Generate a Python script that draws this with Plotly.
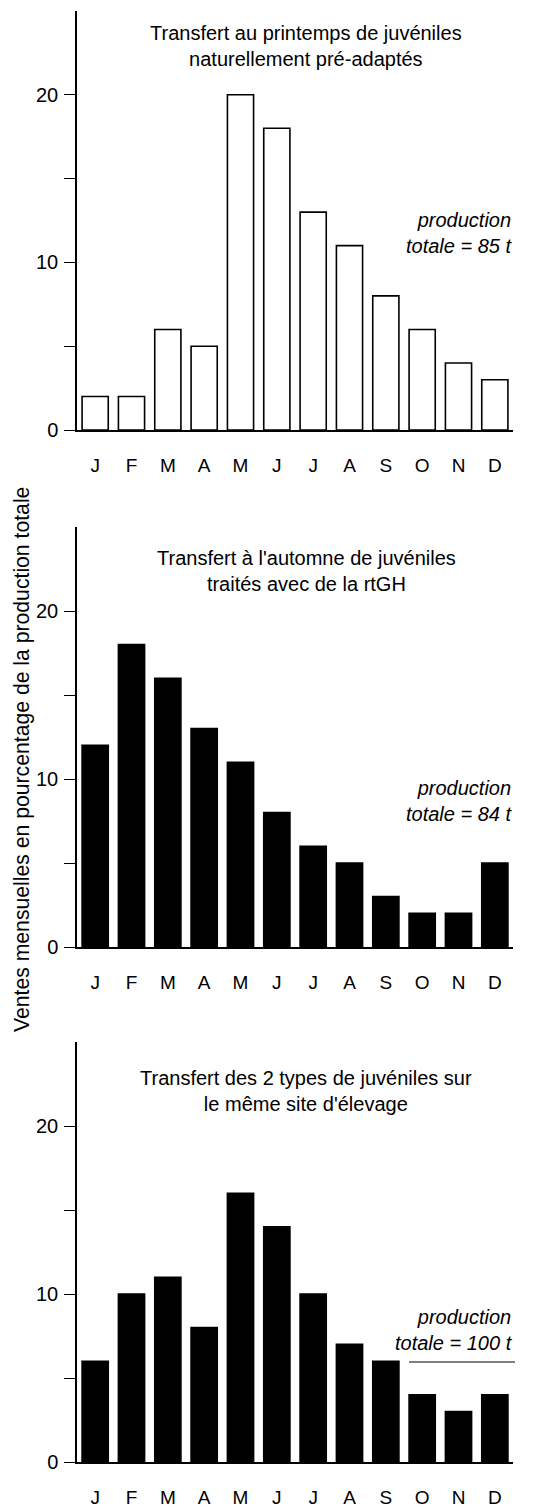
import plotly.graph_objects as go

months = ["J", "F", "M", "A", "M", "J", "J", "A", "S", "O", "N", "D"]
spring_natural = [2, 2, 6, 5, 20, 18, 13, 11, 8, 6, 4, 3]
autumn_rtgh = [12, 18, 16, 13, 11, 8, 6, 5, 3, 2, 2, 5]
both_types = [6, 10, 11, 8, 16, 14, 10, 7, 6, 4, 3, 4]

titles = [
    "Transfert au printemps de juvéniles<br>naturellement pré-adaptés",
    "Transfert à l'automne de juvéniles<br>traités avec de la rtGH",
    "Transfert des 2 types de juvéniles sur<br>le même site d'élevage",
]
totals = ["production<br>totale = 85 t", "production<br>totale = 84 t", "production<br>totale = 100 t"]
y_title = "Ventes mensuelles en pourcentage de la production totale"

# the page body has an 8px default margin: the figure is drawn 8px smaller
OFF = 8
W, H = 540 - OFF, 1508 - OFF
FONT = "Liberation Sans, Arial, Helvetica, sans-serif"

def px(p):
    return (p - OFF) / W

def py(p):
    return 1 - (p - OFF) / H

x_idx = list(range(len(months)))
series = [spring_natural, autumn_rtgh, both_types]
fills = ["white", "black", "black"]
zero_px = [430, 947, 1462]
top_px = [11, 527, 1042]
title_px = [46.5, 571.5, 1091]
total_px = [233, 801, 1329.5]

fig = go.Figure()
layout = dict(
    width=W, height=H,
    margin=dict(l=0, r=0, t=0, b=0, autoexpand=False),
    paper_bgcolor="white", plot_bgcolor="white",
    showlegend=False,
    font=dict(family=FONT, size=20, color="black"),
)
annotations = []
shapes = []
for i, vals in enumerate(series):
    n = "" if i == 0 else str(i + 1)
    fig.add_trace(go.Bar(
        x=x_idx, y=vals, xaxis="x" + n, yaxis="y" + n,
        marker=dict(color=fills[i], line=dict(color="black", width=1.6)),
        width=0.72,
    ))
    layout["xaxis" + n] = dict(
        domain=[px(77), px(513)], range=[-0.5, 11.5],
        tickvals=x_idx, ticktext=months, ticks="",
        showline=True, linecolor="black", linewidth=1.5,
        showgrid=False, zeroline=False, anchor="y" + n, automargin=False,
        tickfont=dict(size=19, family=FONT), ticklabelstandoff=17,
    )
    layout["yaxis" + n] = dict(
        domain=[py(zero_px[i]), py(top_px[i])], range=[0, 25],
        tickvals=[0, 5, 10, 15, 20], ticktext=["0", "", "10", "", "20"],
        ticks="outside", ticklen=11, tickwidth=1.2, tickcolor="black",
        showline=True, linecolor="black", linewidth=1.5,
        showgrid=False, zeroline=False, anchor="x" + n, automargin=False,
        tickfont=dict(size=20, family=FONT), ticklabelstandoff=2,
    )
    annotations.append(dict(
        text=titles[i], x=px(306), y=py(title_px[i]), xref="paper", yref="paper",
        xanchor="center", yanchor="middle", showarrow=False,
        font=dict(size=20, family=FONT), align="center",
    ))
    annotations.append(dict(
        text="<i>" + totals[i] + "</i>", x=px(515), y=py(total_px[i]), xref="paper", yref="paper",
        xanchor="right", yanchor="middle", showarrow=False,
        font=dict(size=20, family=FONT), align="right",
    ))

shapes.append(dict(type="line", xref="paper", yref="paper",
                   x0=px(409), x1=px(515), y0=py(1362), y1=py(1362),
                   line=dict(color="black", width=1.2)))
annotations.append(dict(
    text=y_title, x=px(22), y=py(760), xref="paper", yref="paper",
    xanchor="center", yanchor="middle", showarrow=False, textangle=-90,
    font=dict(size=21.2, family=FONT),
))
layout["annotations"] = annotations
layout["shapes"] = shapes
fig.update_layout(**layout)
fig.write_html("out.html")
